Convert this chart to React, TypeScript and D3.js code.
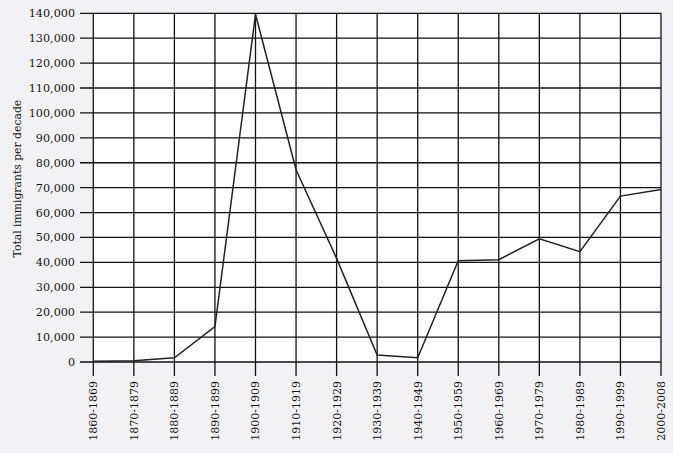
import React from "react";
import * as d3 from "d3";

const categories = [
  "1860-1869", "1870-1879", "1880-1889", "1890-1899", "1900-1909",
  "1910-1919", "1920-1929", "1930-1939", "1940-1949", "1950-1959",
  "1960-1969", "1970-1979", "1980-1989", "1990-1999", "2000-2008",
];
const values = [
  330, 500, 1700, 14200, 139600,
  77200, 41600, 2800, 1700, 40700,
  41100, 49500, 44300, 66600, 69300,
];
const yTicks = d3.range(0, 140001, 10000);
const yLabel = "Total immigrants per decade";

const W = 673;
const H = 453;
const left = 93.3;
const right = 661;
const top = 13.3;
const bottom = 362;
const font = "'DejaVu Serif', 'Liberation Serif', serif";

export default function App() {
  const x = d3.scalePoint<string>().domain(categories).range([left, right]);
  const y = d3.scaleLinear().domain([0, 140000]).range([bottom, top]);
  const line = d3
    .line<number>()
    .x((_, i) => x(categories[i]) as number)
    .y((d) => y(d));
  const fmt = d3.format(",");
  return (
    <svg
      width={W}
      height={H}
      style={{ position: "absolute", left: 0, top: 0 }}
    >
      <rect x={0} y={0} width={W} height={H} fill="#f2f2f4" />
      <rect x={left} y={top} width={right - left} height={bottom - top} fill="#ffffff" />
      {yTicks.map((t) => (
        <g key={t}>
          <line x1={80} x2={right} y1={y(t)} y2={y(t)} stroke="#111" strokeWidth={1.3} />
          <text
            x={75}
            y={y(t)}
            dy="0.36em"
            textAnchor="end"
            fontFamily={font}
            fontSize={11.2}
            fill="#151515"
          >
            {fmt(t)}
          </text>
        </g>
      ))}
      {categories.map((c) => (
        <g key={c}>
          <line x1={x(c)} x2={x(c)} y1={top} y2={376} stroke="#111" strokeWidth={1.3} />
          <text
            transform={`translate(${x(c)},381) rotate(-90)`}
            dy="0.36em"
            textAnchor="end"
            fontFamily={font}
            fontSize={11}
            fill="#151515"
          >
            {c}
          </text>
        </g>
      ))}
      <path d={line(values) || ""} fill="none" stroke="#222" strokeWidth={1.5} />
      <text
        transform={`translate(17,${(top + bottom) / 2 - 9}) rotate(-90)`}
        dy="0.36em"
        textAnchor="middle"
        fontFamily={font}
        fontSize={10.8}
        fill="#151515"
      >
        {yLabel}
      </text>
    </svg>
  );
}
